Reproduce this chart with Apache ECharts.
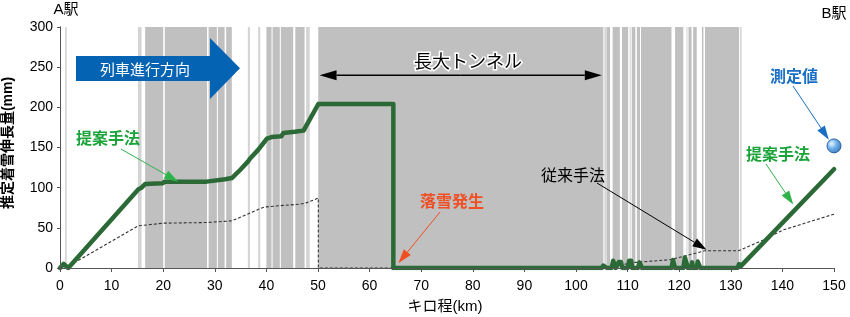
<!DOCTYPE html>
<html><head><meta charset="utf-8">
<script src="https://cdn.jsdelivr.net/npm/echarts@6/dist/echarts.min.js"></script>
<style>html,body{margin:0;padding:0;background:#fff}#c{width:850px;height:317px}</style>
</head><body><div id="c"></div>
<script>
// ---- data ----
const xTicks = [0,10,20,30,40,50,60,70,80,90,100,110,120,130,140,150];
const yTicks = [0,50,100,150,200,250,300];
// tunnel sections (km) – darker gray
const tunnelBands = [
  [16.5,20.0],[20.3,28.5],[28.8,30.4],[30.6,31.9],[32.2,33.3],
  [40.0,41.0],[41.2,42.6],[42.8,45.2],[45.6,47.4],
  [50.05,105.3],[105.9,106.6],[107.1,108.5],[108.9,110.1],[110.8,111.5],[111.8,112.4],
  [112.6,118.5],[119.2,120.8],[121.8,122.4],[122.7,123.4],[124.4,124.7],[125.0,131.6]
];
// short sections – lighter gray
const lightBands = [
  [1.0,1.3],[15.1,15.8],[36.4,36.8],[38.4,38.8],[47.7,48.4],
  [105.5,105.8],[110.4,110.6],[121.4,121.6],[131.8,132.1]
];
// 提案手法 (proposed method)
const proposedKm  = [0,0.7,1.6,15.2,15.8,16.5,19.9,20.3,28.4,28.7,32.0,33.3,34.9,36.5,36.8,38.4,40.1,41.0,42.9,43.3,45.5,47.2,50.06,64.6,64.6,
  105.0,105.3,105.6,106.0,106.9,107.2,107.5,107.7,108.0,108.3,108.7,109.0,110.0,110.3,110.7,110.9,112.0,112.3,112.6,112.8,
  118.5,118.8,119.0,119.2,120.8,121.1,121.4,121.7,122.3,122.5,122.7,123.4,123.6,123.9,124.1,131.3,131.6,131.9,132.1,150];
const proposedVal = [0,5,0,98,100,104.5,105.5,107.5,107.5,108.7,110.4,112,122,133,136,147,161,163,164,168,169.5,171,204,204,0,
  0,3,3,0,0,9,9,0,0,7.5,7.5,0,0,9,9,0,0,7,7,0,
  0,10,10,0,0,13,13,0,0,7,0,0,8,8,0,0,5,2,1,123];
// 従来手法 (conventional method)
const conventionalKm  = [1,15.2,20,28.4,33.3,39.6,46.5,47.5,50.06,50.06,105.3,108,111.5,118.2,125,131.5,136.3,140.2,150];
const conventionalVal = [0,52.5,55.8,56.6,58.7,76,79.5,80.5,87,0,0,3,7,10.3,21.5,21.5,35,47.5,67];
// 測定値 (measured value)
const measuredKm = [150];
const measuredVal = [152];

const pair = (a,b)=>a.map((v,i)=>[v,b[i]]);
const CJK = "'Noto Sans CJK JP',sans-serif";
const LAT = "'Liberation Sans','Noto Sans CJK JP',sans-serif";

const chart = echarts.init(document.getElementById('c'), null, {renderer:'canvas'});

function bandSeries(list, color, z){
  return {
    type:'custom', z:z, silent:true, clip:true,
    data: list,
    renderItem:(params, api)=>{
      const p0 = api.coord([api.value(0), 300]);
      const p1 = api.coord([api.value(1), 0]);
      return {type:'rect', shape:{x:p0[0], y:p0[1], width:Math.max(p1[0]-p0[0],1), height:p1[1]-p0[1]},
        style:{fill:color}};
    },
    encode:{x:[0,1]}
  };
}

const axisCommon = {
  axisLine:{show:true, lineStyle:{color:'#555', width:1}},
  splitLine:{show:false}
};

chart.setOption({
  animation:false,
  backgroundColor:'#fff',
  grid:{left:60,right:16,top:27,bottom:49},
  xAxis:[
    Object.assign({type:'value', min:0, max:150, interval:10, z:10,
      axisTick:{show:true, length:4, lineStyle:{color:'#555'}},
      axisLabel:{fontSize:14, color:'#000', fontFamily:LAT, margin:11}}, axisCommon),
    Object.assign({type:'value', min:0, max:150, interval:10, position:'top', z:10,
      axisTick:{show:false}, axisLabel:{show:false}}, axisCommon)
  ],
  yAxis:[
    Object.assign({type:'value', min:0, max:300, interval:50, z:10,
      axisTick:{show:true, length:3, lineStyle:{color:'#555'}},
      axisLabel:{fontSize:14, color:'#000', fontFamily:LAT, margin:7}}, axisCommon),
    Object.assign({type:'value', min:0, max:300, interval:50, position:'right', z:10,
      axisTick:{show:false}, axisLabel:{show:false}}, axisCommon)
  ],
  series:[
    bandSeries(tunnelBands,'#c0c0c0',1),
    bandSeries(lightBands,'#d4d4d4',1),
    {type:'line', z:4, data:pair(conventionalKm, conventionalVal), symbol:'none',
      lineStyle:{color:'#333', width:1.1, type:[3,2]}},
    {type:'line', z:5, data:pair(proposedKm, proposedVal), symbol:'none',
      lineStyle:{color:'#2b6a37', width:4.5, join:'round', cap:'round'}},
    {type:'scatter', z:6, data:pair(measuredKm, measuredVal), symbolSize:14,
      itemStyle:{borderColor:'#0b4a8f', borderWidth:1,
        color:{type:'radial', x:0.35, y:0.35, r:0.75, colorStops:[
          {offset:0,color:'#e6f3ff'},{offset:0.45,color:'#4a9be6'},{offset:1,color:'#0b4fa0'}]}}}
  ]
});

// ---- annotations ----
const px = (x,y)=>chart.convertToPixel({gridIndex:0}, [x,y]);
function arrow(p1, p2, color, lw, hl, hw){
  const dx=p2[0]-p1[0], dy=p2[1]-p1[1], L=Math.hypot(dx,dy);
  const ux=dx/L, uy=dy/L, nx=-uy, ny=ux;
  const bx=p2[0]-ux*hl, by=p2[1]-uy*hl;
  return [
    {type:'line', z:20, shape:{x1:p1[0],y1:p1[1],x2:bx,y2:by}, style:{stroke:color, lineWidth:lw}},
    {type:'polygon', z:20, shape:{points:[[p2[0],p2[1]],[bx+nx*hw/2,by+ny*hw/2],[bx-nx*hw/2,by-ny*hw/2]]}, style:{fill:color}}
  ];
}
function txt(x,y,s,color,size,opt){
  return Object.assign({type:'text', z:21, x:x, y:y, style:Object.assign({text:s, fill:color,
    font:(opt&&opt.bold?'bold ':'')+size+'px '+((opt&&opt.family)||CJK), align:'center', verticalAlign:'middle'}, (opt&&opt.style)||{})}, (opt&&opt.el)||{});
}
const g = [];
g.push(txt(66,10,'A駅','#000',15,{family:LAT}));
g.push(txt(834,14,'B駅','#000',15,{family:LAT}));
g.push(txt(8,143,'推定着雪伸長量(mm)','#000',14,{family:LAT, bold:true, el:{rotation:Math.PI/2, x:8, y:143}}));
g.push(txt(445,307,'キロ程(km)','#000',15,{family:LAT}));
// train direction arrow
g.push({type:'polygon', z:20, shape:{points:[[76,56],[210,56],[210,38],[240,68.3],[210,99],[210,81],[76,81]]}, style:{fill:'#0563b3'}});
g.push(txt(145,69,'列車進行方向','#fff',15));
// long tunnel double arrow
const la = px(50.3,240), lb = px(105.0,240);
const mid = [(la[0]+lb[0])/2, la[1]];
g.push(...arrow(mid, la, '#000', 1.5, 17, 10));
g.push(...arrow(mid, lb, '#000', 1.5, 17, 10));
g.push(txt(468,61,'長大トンネル','#000',18,{style:{stroke:'#fff', lineWidth:3}}));
// proposed (left)
g.push(txt(108,138,'提案手法','#1ca33a',16,{bold:true}));
g.push(...arrow([121,149], px(22.9,107.5), '#2db34a', 1, 14, 9));
// proposed (right)
g.push(txt(778,154,'提案手法','#1ca33a',16,{bold:true}));
g.push(...arrow([766,164], px(142.1,79), '#2db34a', 1, 14, 9));
// measured
g.push(txt(794,76,'測定値','#1a6fc4',16,{bold:true}));
g.push(...arrow([793,86], px(149.0,159.7), '#1a6fc4', 1, 14, 9));
// snowfall
g.push(txt(452,201,'落雪発生','#f04e23',16,{bold:true}));
g.push(...arrow([440,212], px(65.6,6.2), '#f04e23', 1, 14, 9));
// conventional
g.push(txt(573,175,'従来手法','#000',16));
g.push(...arrow([597,183], px(125.3,22.8), '#000', 1, 14, 9));
chart.setOption({graphic:g});
</script>
</body></html>
